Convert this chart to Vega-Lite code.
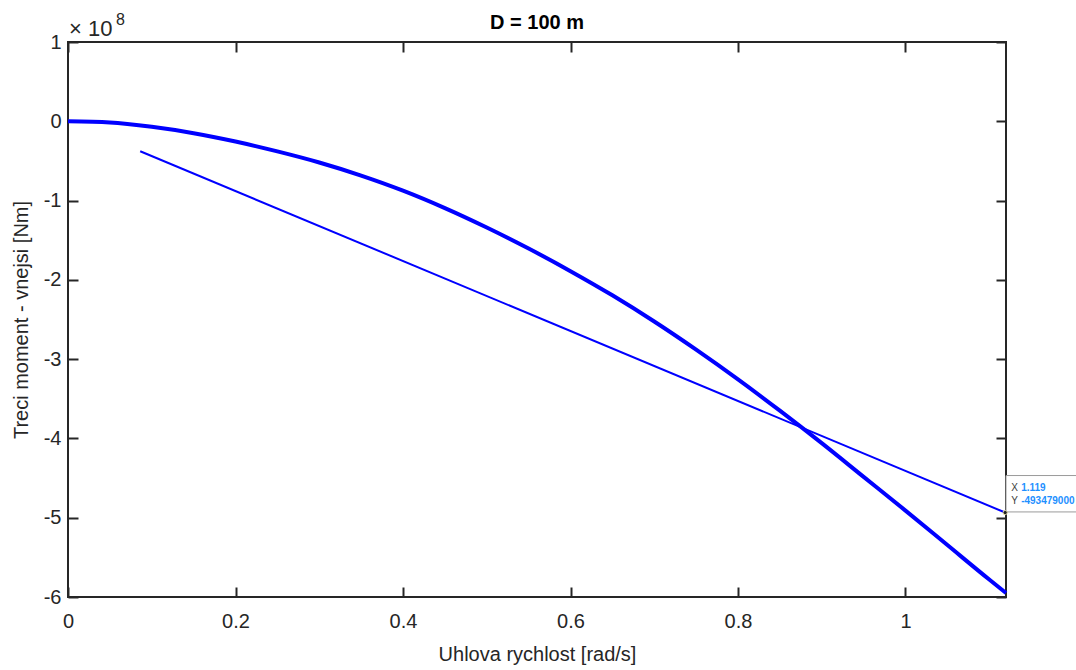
{
  "$schema": "https://vega.github.io/schema/vega-lite/v6.json",
  "autosize": {"type": "none"},
  "padding": {"left": 68, "top": 42, "right": 70, "bottom": 73},
  "width": 938,
  "height": 555,
  "background": "white",
  "title": {"text": "D = 100 m", "fontSize": 20, "font": "Liberation Sans", "fontWeight": "bold", "color": "#000000", "offset": -21},
  "config": {
    "font": "Liberation Sans",
    "view": {"stroke": "#262626", "strokeWidth": 2},
    "axis": {"grid": false, "domain": false, "labelFlush": false, "labelOverlap": false, "tickColor": "#262626", "tickWidth": 2, "labelColor": "#262626", "titleColor": "#262626", "labelFont": "Liberation Sans", "titleFont": "Liberation Sans", "labelFontSize": 20, "titleFontSize": 20, "titleFontWeight": "normal"}
  },
  "datasets": {
    "curve": [
      {"w": 0.0, "m": 0},
      {"w": 0.05, "m": -1500000},
      {"w": 0.1, "m": -7000000},
      {"w": 0.15, "m": -15000000},
      {"w": 0.2, "m": -25500000},
      {"w": 0.25, "m": -38000000},
      {"w": 0.3, "m": -52000000},
      {"w": 0.35, "m": -68500000},
      {"w": 0.4, "m": -87500000},
      {"w": 0.45, "m": -109500000},
      {"w": 0.5, "m": -134000000},
      {"w": 0.55, "m": -160500000},
      {"w": 0.6, "m": -189000000},
      {"w": 0.65, "m": -219500000},
      {"w": 0.7, "m": -252500000},
      {"w": 0.75, "m": -288000000},
      {"w": 0.8, "m": -325500000},
      {"w": 0.85, "m": -365000000},
      {"w": 0.9, "m": -406000000},
      {"w": 0.95, "m": -448500000},
      {"w": 1.0, "m": -491000000},
      {"w": 1.05, "m": -534500000},
      {"w": 1.1, "m": -578000000},
      {"w": 1.12, "m": -595000000}
    ],
    "fit": [
      {"w": 0.0862, "m": -37800000},
      {"w": 1.119, "m": -493479000}
    ],
    "tip": [
      {"w": 1.119, "m": -493479000, "tx": "1.119", "ty": "-493479000"}
    ]
  },
  "layer": [
    {
      "data": {"name": "curve"},
      "mark": {"type": "line", "color": "#0000FF", "strokeWidth": 4, "interpolate": "monotone"},
      "encoding": {
        "x": {"field": "w", "type": "quantitative", "scale": {"domain": [0, 1.12], "nice": false, "zero": false},
          "axis": {"orient": "bottom", "values": [0, 0.2, 0.4, 0.6, 0.8, 1], "format": "~g", "tickSize": -10, "labelPadding": 24, "title": "Uhlova rychlost [rad/s]", "titlePadding": 13}},
        "y": {"field": "m", "type": "quantitative", "scale": {"domain": [-600000000, 100000000], "nice": false, "zero": false},
          "axis": {"orient": "left", "values": [-600000000, -500000000, -400000000, -300000000, -200000000, -100000000, 0, 100000000], "labelExpr": "'' + round(datum.value / 100000000)", "tickSize": -10, "labelPadding": 17, "title": "Treci moment - vnejsi [Nm]", "titlePadding": 12}}
      }
    },
    {
      "data": {"name": "fit"},
      "mark": {"type": "line", "color": "#0000FF", "strokeWidth": 2},
      "encoding": {
        "x": {"field": "w", "type": "quantitative", "axis": {"orient": "top", "values": [0, 0.2, 0.4, 0.6, 0.8, 1], "labels": false, "tickSize": -10, "title": null}},
        "y": {"field": "m", "type": "quantitative", "axis": {"orient": "right", "values": [-600000000, -500000000, -400000000, -300000000, -200000000, -100000000, 0, 100000000], "labels": false, "tickSize": -10, "title": null}}
      }
    },
    {
      "data": {"name": "tip"},
      "mark": {"type": "rect", "fill": "white", "stroke": "#9a9a9a", "strokeWidth": 1},
      "encoding": {
        "x": {"datum": 1.12, "type": "quantitative", "axis": null},
        "x2": {"datum": 1.205},
        "y": {"datum": -446800000, "type": "quantitative", "axis": null},
        "y2": {"datum": -492700000}
      }
    },
    {
      "data": {"name": "tip"},
      "mark": {"type": "point", "filled": true, "color": "#222222", "stroke": "#d8d0a0", "strokeWidth": 1, "size": 18, "opacity": 1},
      "encoding": {
        "x": {"field": "w", "type": "quantitative", "axis": null},
        "y": {"field": "m", "type": "quantitative", "axis": null}
      }
    },
    {
      "data": {"name": "tip"},
      "mark": {"type": "text", "align": "left", "baseline": "alphabetic", "fontSize": 10, "color": "#404040", "dx": 6, "dy": -22, "text": "X"},
      "encoding": {
        "x": {"field": "w", "type": "quantitative", "axis": null},
        "y": {"field": "m", "type": "quantitative", "axis": null}
      }
    },
    {
      "data": {"name": "tip"},
      "mark": {"type": "text", "align": "left", "baseline": "alphabetic", "fontSize": 10, "color": "#404040", "dx": 6, "dy": -9, "text": "Y"},
      "encoding": {
        "x": {"field": "w", "type": "quantitative", "axis": null},
        "y": {"field": "m", "type": "quantitative", "axis": null}
      }
    },
    {
      "data": {"name": "tip"},
      "mark": {"type": "text", "align": "left", "baseline": "alphabetic", "fontSize": 10, "fontWeight": "bold", "color": "#1e90ff", "dx": 16, "dy": -22},
      "encoding": {
        "x": {"field": "w", "type": "quantitative", "axis": null},
        "y": {"field": "m", "type": "quantitative", "axis": null},
        "text": {"field": "tx"}
      }
    },
    {
      "data": {"name": "tip"},
      "mark": {"type": "text", "align": "left", "baseline": "alphabetic", "fontSize": 10, "fontWeight": "bold", "color": "#1e90ff", "dx": 16, "dy": -9},
      "encoding": {
        "x": {"field": "w", "type": "quantitative", "axis": null},
        "y": {"field": "m", "type": "quantitative", "axis": null},
        "text": {"field": "ty"}
      }
    },
    {
      "data": {"values": [{"w": 0, "m": 100000000}]},
      "mark": {"type": "text", "align": "left", "baseline": "alphabetic", "fontSize": 22, "color": "#262626", "dx": 1, "dy": -6, "text": "× 10"},
      "encoding": {
        "x": {"field": "w", "type": "quantitative", "axis": null},
        "y": {"field": "m", "type": "quantitative", "axis": null}
      }
    },
    {
      "data": {"values": [{"w": 0, "m": 100000000}]},
      "mark": {"type": "text", "align": "left", "baseline": "alphabetic", "fontSize": 16, "color": "#262626", "dx": 48, "dy": -17, "text": "8"},
      "encoding": {
        "x": {"field": "w", "type": "quantitative", "axis": null},
        "y": {"field": "m", "type": "quantitative", "axis": null}
      }
    }
  ],
  "resolve": {"axis": {"x": "independent", "y": "independent"}}
}
